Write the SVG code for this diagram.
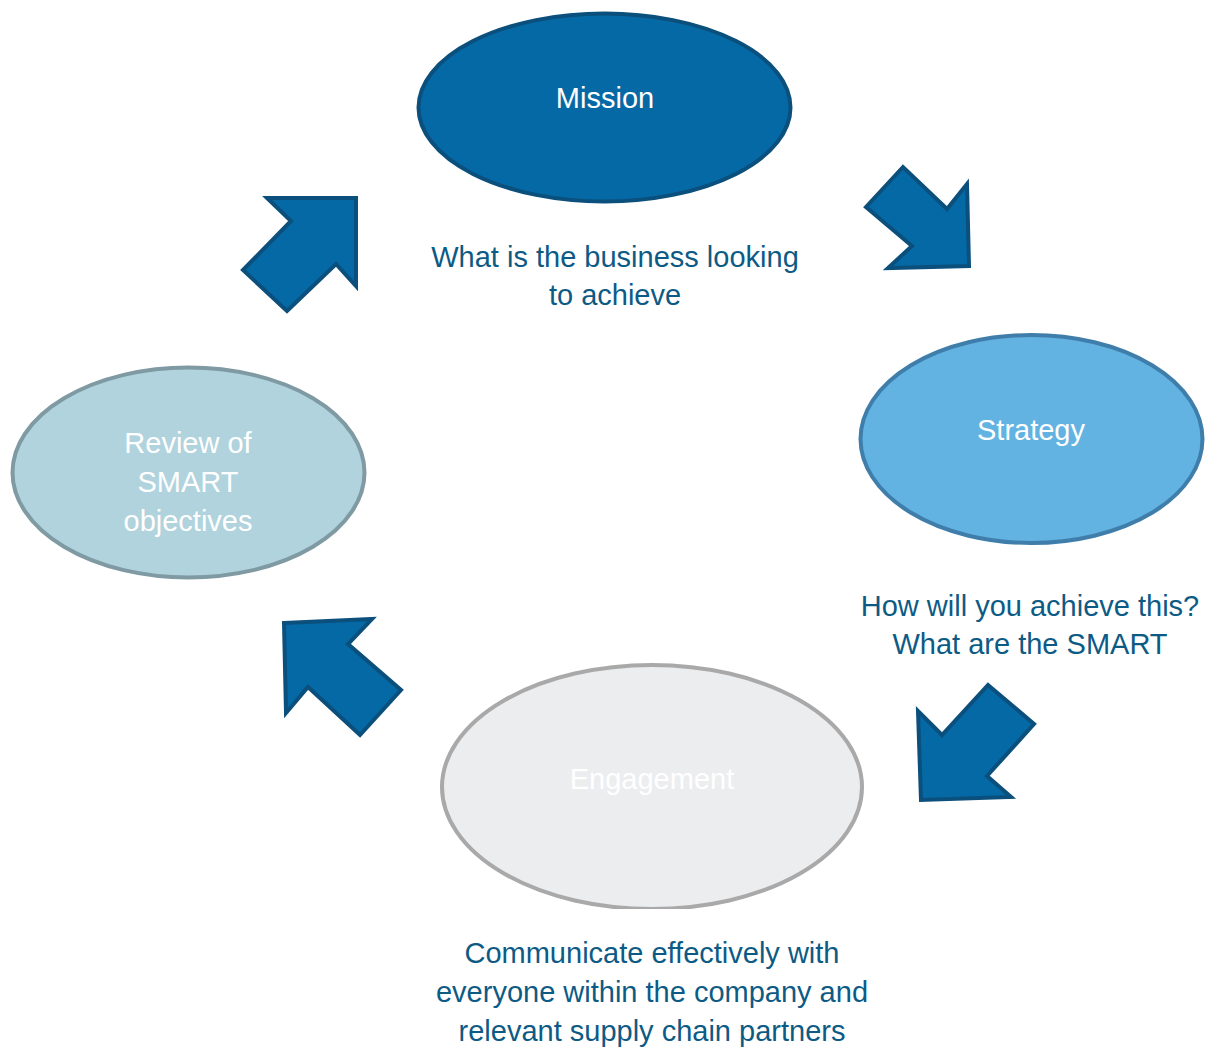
<svg xmlns="http://www.w3.org/2000/svg" width="1212" height="1048" viewBox="0 0 1212 1048">
<defs>
<style>
.lbl{font-family:"Liberation Sans",Arial,sans-serif;font-size:29px;fill:#ffffff;text-anchor:middle}
.cap{font-family:"Liberation Sans",Arial,sans-serif;font-size:29px;fill:#0d5b85;text-anchor:middle}
.arr{fill:#0569a6;stroke:#0b4f7c;stroke-width:4;stroke-linejoin:miter}
</style>
<clipPath id="engClip"><rect x="0" y="0" width="1212" height="909"/></clipPath>
</defs>
<rect width="1212" height="1048" fill="#ffffff"/>
<g id="connectors">
<polygon class="arr" points="866,207 903,167 947,209 967,184 969,266 888,268 912,246"/>
<polygon class="arr" points="267,198 356,198 356,286 336,264 287,311 243,270 291,221"/>
<polygon class="arr" points="284,623 372,619 348,644 401,690 360,735 308,687 286,713"/>
<polygon class="arr" points="988,685 1034,724 987,776 1011,797 921,800 918,711 942,735"/>
</g>
<g id="mission">
<ellipse cx="604.5" cy="107.5" rx="186" ry="94" fill="#0569a6" stroke="#0b4f7c" stroke-width="4"/>
<text class="lbl" x="605" y="108">Mission</text>
<text class="cap" x="615" y="267">What is the business looking</text>
<text class="cap" x="615" y="305">to achieve</text>
</g>
<g id="strategy">
<ellipse cx="1031.5" cy="439" rx="171" ry="104" fill="#62b2e2" stroke="#3f7eaa" stroke-width="4"/>
<text class="lbl" x="1031" y="440">Strategy</text>
<text class="cap" x="1030" y="616">How will you achieve this?</text>
<text class="cap" x="1030" y="654">What are the SMART</text>
</g>
<g id="engagement">
<ellipse cx="652" cy="787" rx="210" ry="122" fill="#ecedef" stroke="#a9a9a9" stroke-width="4" clip-path="url(#engClip)"/>
<text class="lbl" x="652" y="789">Engagement</text>
<text class="cap" x="652" y="963">Communicate effectively with</text>
<text class="cap" x="652" y="1002">everyone within the company and</text>
<text class="cap" x="652" y="1041">relevant supply chain partners</text>
</g>
<g id="review">
<ellipse cx="188.5" cy="472.5" rx="176" ry="105" fill="#b0d3dd" stroke="#7f9aa3" stroke-width="4"/>
<text class="lbl" x="188" y="453">Review of</text>
<text class="lbl" x="188" y="492">SMART</text>
<text class="lbl" x="188" y="531">objectives</text>
</g>
</svg>
